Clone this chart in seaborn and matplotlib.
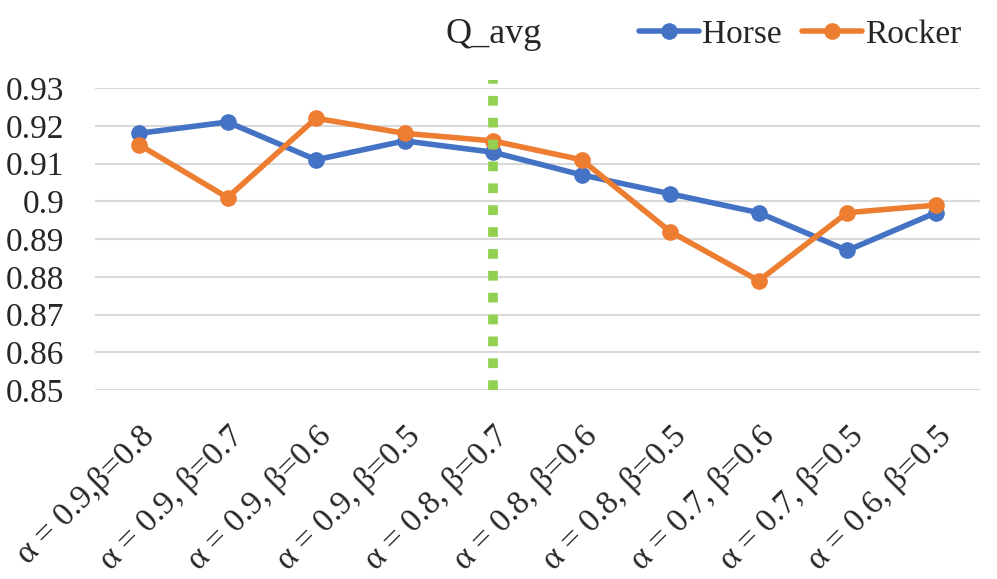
import numpy as np
import pandas as pd
import matplotlib
matplotlib.use("Agg")
import matplotlib.pyplot as plt
import seaborn as sns

settings = [
    "α = 0.9,β=0.8", "α = 0.9, β=0.7", "α = 0.9, β=0.6", "α = 0.9, β=0.5",
    "α = 0.8, β=0.7", "α = 0.8, β=0.6", "α = 0.8, β=0.5", "α = 0.7, β=0.6",
    "α = 0.7, β=0.5", "α = 0.6, β=0.5",
]
horse = [0.918, 0.921, 0.911, 0.916, 0.913, 0.907, 0.902, 0.897, 0.887, 0.897]
rocker = [0.915, 0.901, 0.922, 0.918, 0.916, 0.911, 0.892, 0.879, 0.897, 0.899]
marker_setting = 4
yticks = [0.85, 0.86, 0.87, 0.88, 0.89, 0.90, 0.91, 0.92, 0.93]
ytick_labels = ["0.85", "0.86", "0.87", "0.88", "0.89", "0.9", "0.91", "0.92", "0.93"]

df = pd.DataFrame({
    "idx": list(range(len(settings))) * 2,
    "value": horse + rocker,
    "series": ["Horse"] * len(horse) + ["Rocker"] * len(rocker),
})

sns.set_theme(style="white")
plt.rcParams["font.family"] = ["Liberation Serif", "DejaVu Serif"]
plt.rcParams["font.size"] = 24

fig = plt.figure(figsize=(9.97, 5.79), dpi=100)
ax = fig.add_axes([0.095, 0.326, 0.888, 0.522])

for y in yticks:
    ax.axhline(y, color="#d9d9d9", linewidth=1.5, zorder=0)

ax.plot([marker_setting, marker_setting], [0.85, 0.9321], color="#92D050",
        linewidth=7, linestyle=(0, (1.0, 1.25)), solid_capstyle="butt",
        dash_capstyle="butt", clip_on=False, zorder=3)

sns.lineplot(
    data=df, x="idx", y="value", hue="series",
    palette={"Horse": "#4472C4", "Rocker": "#ED7D31"},
    marker="o", markersize=12, markeredgewidth=0, linewidth=4,
    ax=ax, zorder=2,
)

ax.set_xlim(-0.5, len(settings) - 0.5)
ax.set_ylim(0.85, 0.93)
ax.set_yticks(yticks)
ax.set_yticklabels(ytick_labels, fontsize=24)
ax.set_xticks(range(len(settings)))
ax.set_xticklabels(settings, rotation=45, ha="right", rotation_mode="anchor",
                   fontsize=24)
ax.tick_params(axis="y", length=0, pad=22)
ax.tick_params(axis="x", length=0, pad=22)
ax.set_xlabel("")
ax.set_ylabel("")
for s in ax.spines.values():
    s.set_visible(False)

ax.legend(loc="center right", bbox_to_anchor=(0.964, 0.94),
          bbox_transform=fig.transFigure, ncol=2, frameon=False,
          fontsize=24, handlelength=1.8, handletextpad=0.1, columnspacing=0.6,
          borderaxespad=0, borderpad=0)

fig.text(0.495, 0.94, "Q_avg", ha="center", va="center", fontsize=26)

fig.savefig("out.png", dpi=100)
